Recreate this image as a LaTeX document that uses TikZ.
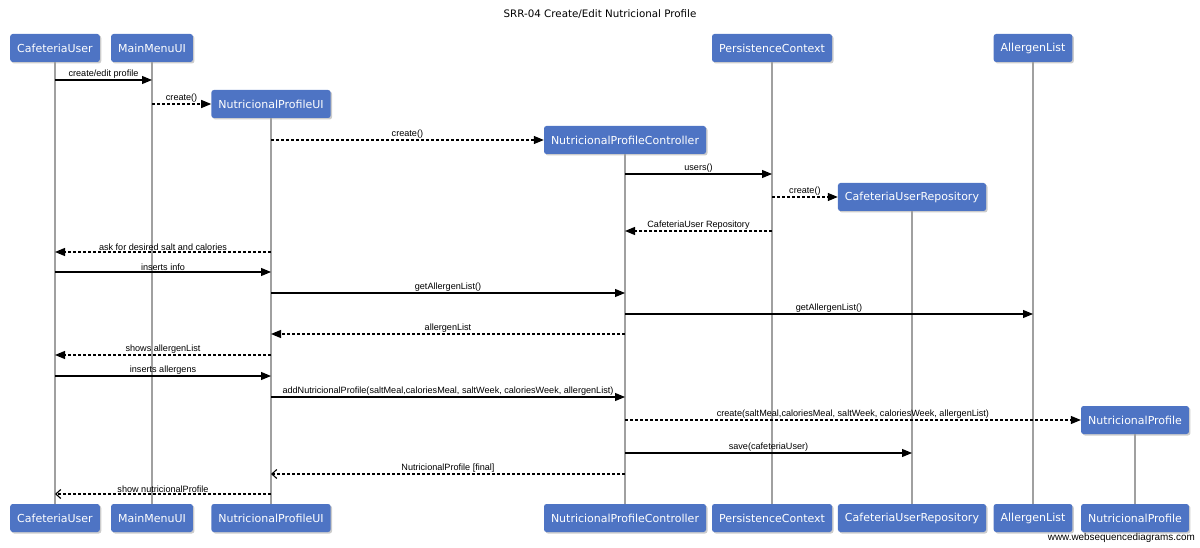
\documentclass[tikz,border=0pt]{standalone}
\usepackage{fontspec}
\setmainfont{DejaVu Sans}
\newfontfamily\lblfont{Liberation Sans}
\usetikzlibrary{arrows.meta,shadows}
\definecolor{boxblue}{RGB}{78,116,196}
\definecolor{lifegray}{RGB}{160,160,160}

\begin{document}
\begin{tikzpicture}[x=1pt,y=-1pt,
  actor/.style={fill=boxblue,text=white,rounded corners=2.5pt,minimum height=28pt,inner xsep=7pt,
    font=\fontsize{11}{12}\selectfont,
    drop shadow={shadow xshift=1.5pt,shadow yshift=-1.5pt,opacity=0.4}},
  life/.style={lifegray,line width=1.3pt},
  msg/.style={line width=1.1pt,-{Triangle[length=10pt,width=8pt]}},
  reply/.style={msg,dash pattern=on 3pt off 2pt},
  back/.style={line width=1.1pt,dash pattern=on 3pt off 2pt,-{Straight Barb[length=5pt,width=9pt]}},
  lbl/.style={above,inner sep=1pt,font=\lblfont\fontsize{9.1}{10}\selectfont}
]
\useasboundingbox (0,0) rectangle (1200,548);
\node (title) at (600,14) [font=\fontsize{10.3}{12}\selectfont] {SRR-04 Create/Edit Nutricional Profile};

\node[actor] (cu) at (55,48) {CafeteriaUser};
\node[actor] (mm) at (152,48) {MainMenuUI};
\node[actor] (pc) at (772,48) {PersistenceContext};
\node[actor] (al) at (1033,48) {AllergenList};
\node[actor] (npui) at (271,104) {NutricionalProfileUI};
\node[actor] (npc) at (625,140) {NutricionalProfileController};
\node[actor] (cur) at (912,197) {CafeteriaUserRepository};
\node[actor] (np) at (1135,420) {NutricionalProfile};

\node[actor] (cu2) at (55,518) {CafeteriaUser};
\node[actor] (mm2) at (152,518) {MainMenuUI};
\node[actor] (npui2) at (271,518) {NutricionalProfileUI};
\node[actor] (npc2) at (625,518) {NutricionalProfileController};
\node[actor] (pc2) at (772,518) {PersistenceContext};
\node[actor] (cur2) at (912,518) {CafeteriaUserRepository};
\node[actor] (al2) at (1033,518) {AllergenList};
\node[actor] (np2) at (1135,518) {NutricionalProfile};

\foreach \a in {cu,mm,npui,npc,pc,cur,al,np}
  \draw[life] (\a.south) -- (\a2.north);

\draw[msg] (cu |- 0,80) -- (mm |- 0,80) node[lbl,midway] {create/edit profile};
\draw[reply] (mm |- npui) -- (npui.west) node[lbl,midway] {create()};
\draw[reply] (npui |- npc) -- (npc.west) node[lbl,midway] {create()};
\draw[msg] (npc |- 0,174) -- (pc |- 0,174) node[lbl,midway] {users()};
\draw[reply] (pc |- cur) -- (cur.west) node[lbl,midway] {create()};
\draw[reply] (pc |- 0,231) -- (npc |- 0,231) node[lbl,midway] {CafeteriaUser Repository};
\draw[reply] (npui |- 0,252) -- (cu |- 0,252) node[lbl,midway] {ask for desired salt and calories};
\draw[msg] (cu |- 0,272) -- (npui |- 0,272) node[lbl,midway] {inserts info};
\draw[msg] (npui |- 0,293) -- (npc |- 0,293) node[lbl,midway] {getAllergenList()};
\draw[msg] (npc |- 0,314) -- (al |- 0,314) node[lbl,midway] {getAllergenList()};
\draw[reply] (npc |- 0,334) -- (npui |- 0,334) node[lbl,midway] {allergenList};
\draw[reply] (npui |- 0,355) -- (cu |- 0,355) node[lbl,midway] {shows allergenList};
\draw[msg] (cu |- 0,376) -- (npui |- 0,376) node[lbl,midway] {inserts allergens};
\draw[msg] (npui |- 0,397) -- (npc |- 0,397) node[lbl,midway] {addNutricionalProfile(saltMeal,caloriesMeal, saltWeek, caloriesWeek, allergenList)};
\draw[reply] (npc |- np) -- (np.west) node[lbl,midway] {create(saltMeal,caloriesMeal, saltWeek, caloriesWeek, allergenList)};
\draw[msg] (npc |- 0,453) -- (cur |- 0,453) node[lbl,midway] {save(cafeteriaUser)};
\draw[back] (npc |- 0,474) -- (npui |- 0,474) node[lbl,midway] {NutricionalProfile [final]};
\draw[back] (npui |- 0,494) -- (cu |- 0,494) node[lbl,midway] {show nutricionalProfile};

\node (web) at (1195,538) [anchor=east,inner sep=0pt,font=\lblfont\fontsize{9.9}{11}\selectfont] {www.websequencediagrams.com};
\end{tikzpicture}
\end{document}
